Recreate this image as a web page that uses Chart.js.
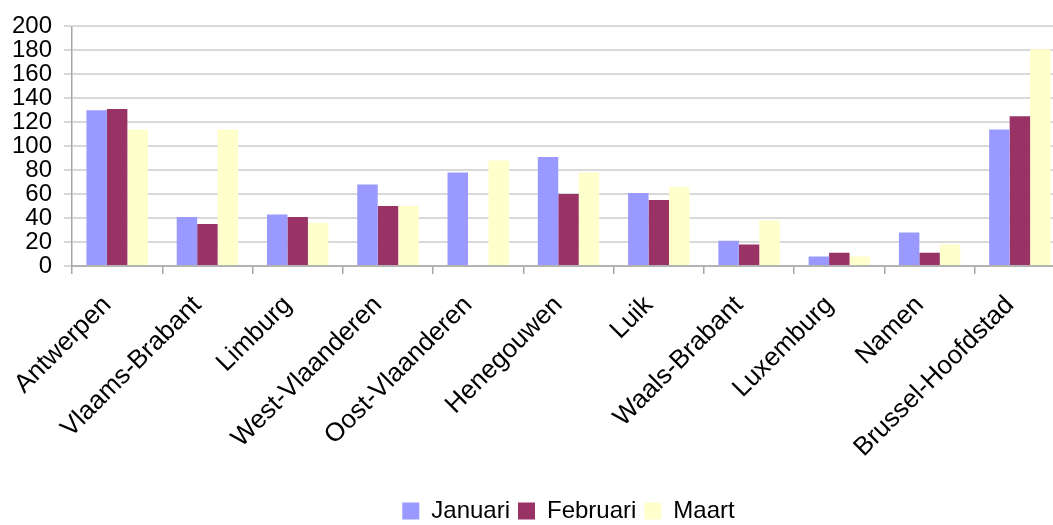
<!DOCTYPE html>
<html>
<head>
<meta charset="utf-8">
<script src="https://cdn.jsdelivr.net/npm/chart.js@4.4.1/dist/chart.umd.min.js"></script>
<style>
  html, body { margin: 0; padding: 0; background: #fff; overflow: hidden; }
  #wrap { position: relative; width: 1070px; height: 525px; }
</style>
</head>
<body>
<div id="wrap"><canvas id="chart"></canvas></div>
<script>
// provinces and monthly values
const provinces = ['Antwerpen', 'Vlaams-Brabant', 'Limburg', 'West-Vlaanderen', 'Oost-Vlaanderen',
    'Henegouwen', 'Luik', 'Waals-Brabant', 'Luxemburg', 'Namen', 'Brussel-Hoofdstad'];
const januari  = [130, 41, 43, 68, 78, 91, 61, 21, 8, 28, 114];
const februari = [131, 35, 41, 50, 0, 60, 55, 18, 11, 11, 125];
const maart    = [114, 114, 36, 50, 88, 78, 66, 38, 8, 18, 181];
const yTicks   = [0, 20, 40, 60, 80, 100, 120, 140, 160, 180, 200];

Chart.defaults.font.family = "'Liberation Sans', Arial, sans-serif";
Chart.defaults.color = '#000';

const ctx = document.getElementById('chart');
new Chart(ctx, {
    type: 'bar',
    data: {
        labels: provinces,
        datasets: [
            { label: 'Januari', data: januari, backgroundColor: '#9999ff' },
            { label: 'Februari', data: februari, backgroundColor: '#993366' },
            { label: 'Maart', data: maart, backgroundColor: '#ffffcc' }
        ]
    },
    options: {
        responsive: true,
        maintainAspectRatio: false,
        animation: false,
        layout: { padding: { top: 14, right: 5, left: 0, bottom: -8 } },
        datasets: { bar: { categoryPercentage: 0.68, barPercentage: 1.0 } },
        plugins: {
            tooltip: { enabled: false },
            legend: {
                position: 'bottom',
                fullSize: false, // centre under the plot area
                labels: {
                    font: { size: 24 },
                    boxWidth: 17,
                    boxHeight: 17,
                    padding: 8
                }
            }
        },
        scales: {
            x: {
                grid: { drawOnChartArea: false, tickLength: 8, color: '#a6a6a6', lineWidth: 1.5 },
                border: { color: '#b3b3b3', width: 2 },
                ticks: {
                    minRotation: 45, maxRotation: 45, autoSkip: false,
                    font: { size: 26 }, padding: 16, labelOffset: -10
                },
                afterFit: (scale) => { scale.height = 225; }
            },
            y: {
                min: 0,
                max: 200,
                afterBuildTicks: (scale) => { scale.ticks = yTicks.map(v => ({ value: v })); },
                grid: { color: '#d9d9d9', lineWidth: 2, tickLength: 8 },
                border: { color: '#a6a6a6', width: 1.5 },
                ticks: { font: { size: 24 }, padding: 12, autoSkip: false },
                afterFit: (scale) => { scale.width = 72; }
            }
        }
    }
});
</script>
</body>
</html>
